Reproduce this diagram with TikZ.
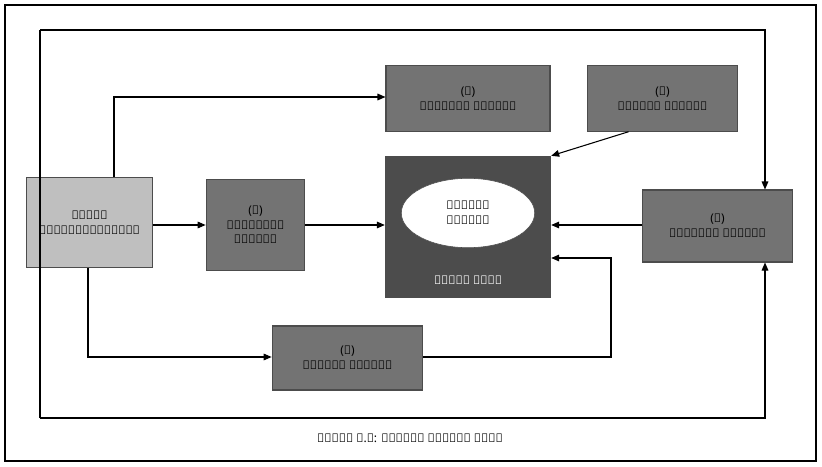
\documentclass[tikz,border=0pt]{standalone}
\usepackage{fontspec}
\newfontfamily\bnfont{Noto Sans}
\usetikzlibrary{positioning,arrows.meta,shapes.geometric}
\tikzset{
  box/.style={draw=black!70,fill=black!55,line width=0.8pt,align=center,font=\bnfont\small,text=black,inner sep=2pt},
  arr/.style={-{Triangle[length=6pt,width=5pt]},line width=0.8pt},
  ln/.style={line width=0.8pt}
}
\begin{document}
\begin{tikzpicture}[x=0.75pt,y=-0.75pt]
\useasboundingbox (0,0) rectangle (822,467);
\draw[line width=1pt] (5,5) rectangle (816,461);
% boxes
\node[box,fill=black!25,minimum width=94pt,minimum height=68pt] (comp) at (89.5,222.5) {বাজার\\প্রতিদ্বন্দ্বী};
\node[box,minimum width=74pt,minimum height=68pt] (one) at (255.5,225) {(১)\\মুখোমুখি\\আক্রমণ};
\node[box,minimum width=123pt,minimum height=49pt] (two) at (468,98.5) {(২)\\পার্শ্ব আক্রমণ};
\node[box,minimum width=113pt,minimum height=49pt] (five) at (662.5,98.5) {(৫)\\গেরিলা আক্রমণ};
\node[box,fill=black!70,minimum width=124pt,minimum height=106pt] (lead) at (468,227) {};
\node[draw=black!70,fill=white,ellipse,minimum width=100pt,minimum height=52pt,align=center,font=\bnfont\small] (goal) at (468,213) {কৌশলগত\\লক্ষ্য};
\node[font=\bnfont\small,text=white] (leadl) at (468,280) {বাজার নেতা};
\node[box,minimum width=113pt,minimum height=54pt] (three) at (717.5,226) {(৩)\\বেষ্টনী আক্রমণ};
\node[box,minimum width=113pt,minimum height=48pt] (four) at (347.5,358) {(৪)\\বাইপাস আক্রমণ};
% frame corners
\coordinate (tl) at (40,30);
\coordinate (tr) at (765,30);
\coordinate (bl) at (40,418);
\coordinate (br) at (765,418);
\draw[ln] (bl) -- (tl);
\draw[arr] (tl) -- (tr) -- (three.north -| tr);
\draw[arr] (bl) -- (br) -- (three.south -| br);
% connectors
\draw[arr] (comp.east |- 0,225) -- (one.west |- 0,225);
\draw[arr] (one.east |- 0,225) -- (lead.west |- 0,225);
\draw[arr] (three.west |- 0,225) -- (lead.east |- 0,225);
\draw[arr] (comp.north -| 114,0) |- (two.west |- 0,97);
\draw[arr] (five.south west) ++(42,0) -- (lead.north east);
\draw[arr] (comp.south -| 88,0) |- (four.west |- 0,357);
\draw[arr] (four.east |- 0,357) -| (611,258) -- (lead.east |- 0,258);
% caption
\node[font=\bnfont\small\bfseries] (cap) at (410,438) {চিত্র ৮.৪: সাধারণ আক্রমণ কৌশল};
\end{tikzpicture}
\end{document}
